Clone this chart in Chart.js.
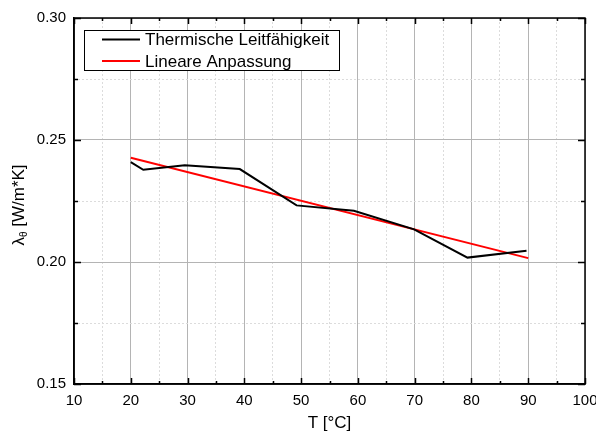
<!DOCTYPE html>
<html>
<head>
<meta charset="utf-8">
<script src="https://cdn.jsdelivr.net/npm/chart.js@4/dist/chart.umd.min.js"></script>
<style>
  html, body { margin: 0; padding: 0; background: #fff; }
  #wrap { width: 596px; height: 434px; }
</style>
</head>
<body>
<div id="wrap"><canvas id="chart"></canvas></div>
<script>
const tempC = [20, 22.2, 29.5, 39.2, 49.2, 59.3, 69.9, 79.3, 89.7];
const conductivity = [0.2409, 0.2378, 0.2396, 0.2381, 0.2232, 0.2210, 0.2134, 0.2018, 0.2046];

// Linear fit end points
const fitT = [20, 90];
const fitValues = [0.2427, 0.2016];

const seriesLabels = ['Thermische Leitfähigkeit', 'Lineare Anpassung'];
const xTitle = 'T [°C]';
const yTitleMain = 'λ';
const yTitleSub = 'θ';
const yTitleUnit = ' [W/m*K]';

const FONT = '"Liberation Sans", Arial, sans-serif';

function toPoints(xs, ys) {
  return xs.map((x, i) => ({ x: x, y: ys[i] }));
}

// Frame, inside ticks, boxed legend and y title with subscript
const framePlugin = {
  id: 'frame',
  afterDraw(chart) {
    const ctx = chart.ctx;
    const a = chart.chartArea;
    const mx = chart.scales.xMinor, my = chart.scales.yMinor;
    ctx.save();

    // inside ticks
    ctx.strokeStyle = '#000';
    ctx.lineWidth = 1.5;
    ctx.beginPath();
    mx.ticks.forEach(t => {
      const px = Math.round(mx.getPixelForValue(t.value)) + 0.5;
      const len = (Math.round(t.value) % 10 === 0) ? 6 : 3;
      ctx.moveTo(px, a.bottom); ctx.lineTo(px, a.bottom - len);
      ctx.moveTo(px, a.top); ctx.lineTo(px, a.top + len);
    });
    my.ticks.forEach(t => {
      const py = Math.round(my.getPixelForValue(t.value)) + 0.5;
      const major = Math.abs(Math.round(t.value * 1000) % 50) === 0;
      const len = major ? 7 : 4;
      ctx.moveTo(a.left, py); ctx.lineTo(a.left + len, py);
      ctx.moveTo(a.right, py); ctx.lineTo(a.right - len, py);
    });
    ctx.stroke();

    // frame
    ctx.lineWidth = 1.5;
    ctx.strokeRect(a.left, a.top, a.right - a.left, a.bottom - a.top);

    // legend box
    const lx = a.left + 10, ly = a.top + 12;
    const lw = 255, lh = 40;
    ctx.fillStyle = '#fff';
    ctx.fillRect(lx, ly, lw, lh);
    ctx.lineWidth = 1;
    ctx.strokeStyle = '#000';
    ctx.strokeRect(lx + 0.5, ly + 0.5, lw, lh);
    ctx.font = '17px ' + FONT;
    ctx.textBaseline = 'middle';
    ctx.textAlign = 'left';
    chart.data.datasets.forEach((ds, i) => {
      const rowY = ly + 9.5 + i * 21.5;
      ctx.strokeStyle = ds.borderColor;
      ctx.lineWidth = 2;
      ctx.beginPath();
      ctx.moveTo(lx + 18, rowY);
      ctx.lineTo(lx + 56, rowY);
      ctx.stroke();
      ctx.fillStyle = '#000';
      ctx.fillText(ds.label, lx + 61, rowY + 1);
    });

    // y axis title with subscript
    ctx.translate(19, (a.top + a.bottom) / 2 + 4);
    ctx.rotate(-Math.PI / 2);
    ctx.fillStyle = '#000';
    ctx.textBaseline = 'middle';
    ctx.font = '17px ' + FONT;
    const wMain = ctx.measureText(yTitleMain).width;
    ctx.font = '10px ' + FONT;
    const wSub = ctx.measureText(yTitleSub).width;
    ctx.font = '17px ' + FONT;
    const wUnit = ctx.measureText(yTitleUnit).width;
    let x0 = -(wMain + wSub + wUnit) / 2;
    ctx.fillText(yTitleMain, x0, 0);
    ctx.font = '10px ' + FONT;
    ctx.fillText(yTitleSub, x0 + wMain, 5);
    ctx.font = '17px ' + FONT;
    ctx.fillText(yTitleUnit, x0 + wMain + wSub, 0);

    ctx.restore();
  }
};

const ctx = document.getElementById('chart').getContext('2d');

new Chart(ctx, {
  type: 'scatter',
  data: {
    datasets: [
      {
        label: seriesLabels[0],
        data: toPoints(tempC, conductivity),
        showLine: true,
        borderColor: '#000000',
        borderWidth: 2,
        pointRadius: 0,
        tension: 0
      },
      {
        label: seriesLabels[1],
        data: toPoints(fitT, fitValues),
        showLine: true,
        borderColor: '#ff0000',
        borderWidth: 2,
        pointRadius: 0,
        tension: 0
      }
    ]
  },
  options: {
    responsive: true,
    maintainAspectRatio: false,
    animation: false,
    layout: { padding: { left: 0, right: 11, top: 18, bottom: 0 } },
    plugins: {
      legend: { display: false },
      tooltip: { enabled: false }
    },
    scales: {
      x: {
        type: 'linear',
        position: 'bottom',
        min: 10,
        max: 100,
        afterFit: function(scale) {
          scale.height = 50;
          scale.paddingLeft = 0;
          scale.paddingRight = 0;
        },
        ticks: {
          stepSize: 10,
          padding: 8,
          color: '#000',
          font: { family: FONT, size: 15 }
        },
        grid: { color: '#b4b4b4', lineWidth: 1, drawTicks: false },
        border: { display: true, color: '#000', width: 1.5 },
        title: {
          display: true,
          text: xTitle,
          color: '#000',
          font: { family: FONT, size: 17 },
          padding: { top: 0, bottom: 0 }
        }
      },
      xMinor: {
        type: 'linear',
        position: 'bottom',
        min: 10,
        max: 100,
        afterFit: function(scale) {
          scale.height = 0;
          scale.paddingLeft = 0;
          scale.paddingRight = 0;
        },
        ticks: { stepSize: 5, display: false },
        grid: {
          drawTicks: false,
          color: ctx => (Math.round(ctx.tick.value) % 10 === 0 ? 'rgba(0,0,0,0)' : '#dcdcdc'),
          lineWidth: 1
        },
        border: { display: false, dash: [2, 2] }
      },
      y: {
        type: 'linear',
        position: 'left',
        min: 0.15,
        max: 0.30,
        afterFit: function(scale) { scale.width = 74; },
        ticks: {
          stepSize: 0.05,
          padding: 8,
          color: '#000',
          font: { family: FONT, size: 15 },
          callback: v => v.toFixed(2)
        },
        grid: { color: '#b4b4b4', lineWidth: 1, drawTicks: false },
        border: { display: true, color: '#000', width: 1.5 }
      },
      yMinor: {
        type: 'linear',
        position: 'left',
        min: 0.15,
        max: 0.30,
        afterFit: function(scale) { scale.width = 0; },
        ticks: { stepSize: 0.025, display: false },
        grid: {
          drawTicks: false,
          color: ctx => (Math.abs(Math.round(ctx.tick.value * 1000) % 50) === 0 ? 'rgba(0,0,0,0)' : '#dcdcdc'),
          lineWidth: 1
        },
        border: { display: false, dash: [2, 2] }
      }
    }
  },
  plugins: [framePlugin]
});
</script>
</body>
</html>
